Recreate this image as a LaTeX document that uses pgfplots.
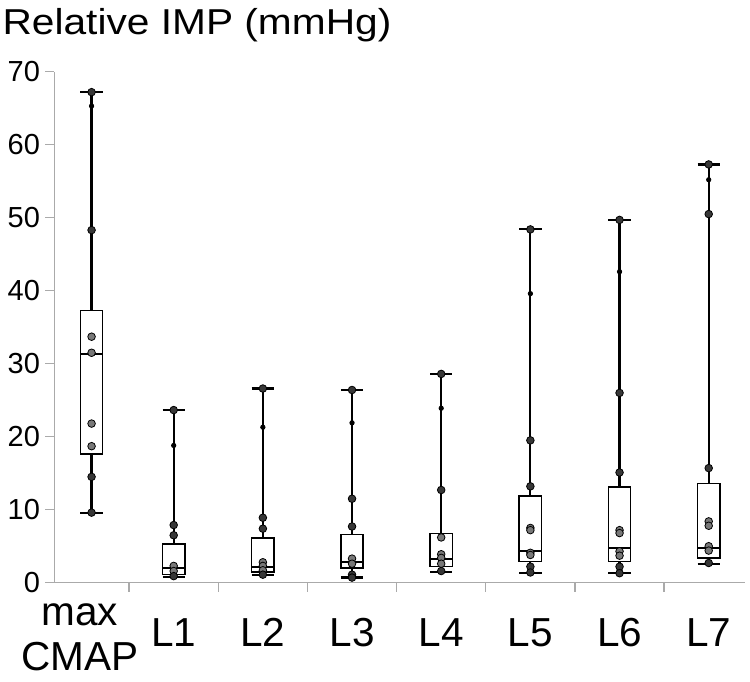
\documentclass[border=0pt]{standalone}
\usepackage{pgfplots}
\pgfplotsset{compat=1.18}
\usepgfplotslibrary{statistics}
\usepackage{fontspec}
\setmainfont{Liberation Sans}
\definecolor{axgray}{RGB}{170,170,170}
\definecolor{dotdark}{RGB}{55,55,55}
\definecolor{dotlight}{RGB}{120,120,120}
\begin{document}
\begin{tikzpicture}
\path[use as bounding box] (-27.15pt,-49.15pt) rectangle (347.85pt,291.35pt);
\begin{axis}[
  scale only axis, width=345.35pt, height=255.5pt,
  xmin=-0.339, xmax=7.407, ymin=0, ymax=70,
  axis x line*=bottom, axis y line*=left,
  axis line style={-, draw=axgray, line width=0.7pt},
  tick style={draw=axgray, line width=0.7pt},
  tick align=outside, major tick length=4.5pt,
  ytick={0,10,...,70},
  /pgf/number format/assume math mode=true,
  yticklabel style={font=\fontsize{14.5pt}{16pt}\selectfont, inner sep=0pt, xshift=-2.5pt},
  xtick={0.5,1.5,...,6.5}, xticklabels={},
  extra x ticks={-0.051,1,2,3,4,5,6,7},
  extra x tick labels={{\raisebox{-11.65pt}{\begin{tabular}[b]{@{}c@{}}max\\CMAP\end{tabular}}},L1,L2,L3,L4,L5,L6,L7},
  extra x tick style={tick style={draw=none}},
  xticklabel style={font=\fontsize{20.25pt}{22.5pt}\selectfont, anchor=base, inner sep=0pt, yshift=-27.5pt},
  clip=false,
  boxplot/draw direction=y,
  boxplot/box extend=0.25,
  boxplot/whisker extend=0.25,
  boxplot/every whisker/.style={line width=1.1pt},
  boxplot/every box/.style={line width=0.75pt},
  boxplot/every median/.style={line width=0.9pt},
]
% inner points (lighter)
\addplot[only marks, mark=*, mark size=1.9pt, mark options={draw=none, fill=dotlight}] coordinates {
(0.079,33.7)(0.079,31.5)(0.079,21.8)(0.079,18.7)
(1,2.3)(1,1.6)
(2,2.8)(2,2.3)(2,1.7)
(3,3.3)(3,2.6)
(4,6.2)(4,3.9)(4,3.4)(4,2.6)
(5,7.5)(5,7.2)(5,4.1)(5,3.8)
(6,7.2)(6,6.8)(6,4.3)(6,3.7)
(7,8.4)(7,7.8)(7,5.0)(7,4.4)
};
% outer points (darker)
\addplot[only marks, mark=*, mark size=1.9pt, mark options={draw=none, fill=dotdark}] coordinates {
(0.079,67.2)(0.079,48.3)(0.079,14.5)(0.079,9.6)
(1,23.65)(1,7.9)(1,6.5)(1,0.9)
(2,26.6)(2,8.9)(2,7.4)(2,1.1)
(3,26.4)(3,11.5)(3,7.7)(3,1.1)(3,0.7)
(4,28.6)(4,12.7)(4,1.6)
(5,48.4)(5,19.5)(5,13.2)(5,2.2)(5,1.4)
(6,49.7)(6,26.0)(6,15.1)(6,2.2)(6,1.3)
(7,57.3)(7,50.5)(7,15.7)(7,2.7)
};
% small points on whiskers
\addplot[only marks, mark=*, mark size=1.1pt, mark options={draw=none, fill=black}] coordinates {
(0.079,65.3)(1,18.8)(2,21.3)(3,21.9)(4,23.9)(5,39.6)(6,42.6)(7,55.2)
};
\addplot[black, line width=0.75pt, boxplot prepared={draw position=0.079, lower whisker=9.6, lower quartile=17.6, median=31.3, upper quartile=37.3, upper whisker=67.2}] coordinates {};
\addplot[black, line width=0.75pt, boxplot prepared={draw position=1, lower whisker=0.8, lower quartile=1.1, median=2.0, upper quartile=5.3, upper whisker=23.65}] coordinates {};
\addplot[black, line width=0.75pt, boxplot prepared={draw position=2, lower whisker=1.1, lower quartile=1.5, median=2.2, upper quartile=6.1, upper whisker=26.6}] coordinates {};
\addplot[black, line width=0.75pt, boxplot prepared={draw position=3, lower whisker=0.7, lower quartile=2.0, median=2.85, upper quartile=6.6, upper whisker=26.4}] coordinates {};
\addplot[black, line width=0.75pt, boxplot prepared={draw position=4, lower whisker=1.5, lower quartile=2.2, median=3.2, upper quartile=6.75, upper whisker=28.6}] coordinates {};
\addplot[black, line width=0.75pt, boxplot prepared={draw position=5, lower whisker=1.3, lower quartile=2.9, median=4.3, upper quartile=11.85, upper whisker=48.4}] coordinates {};
\addplot[black, line width=0.75pt, boxplot prepared={draw position=6, lower whisker=1.3, lower quartile=2.9, median=4.7, upper quartile=13.1, upper whisker=49.7}] coordinates {};
\addplot[black, line width=0.75pt, boxplot prepared={draw position=7, lower whisker=2.6, lower quartile=3.35, median=4.7, upper quartile=13.6, upper whisker=57.3}] coordinates {};
\end{axis}
\node[anchor=base west, inner sep=0pt] at (-26.05pt,274.2pt) {\scalebox{1.13}[1]{\fontsize{18pt}{20pt}\selectfont Relative IMP (mmHg)}};
\end{tikzpicture}
\end{document}
